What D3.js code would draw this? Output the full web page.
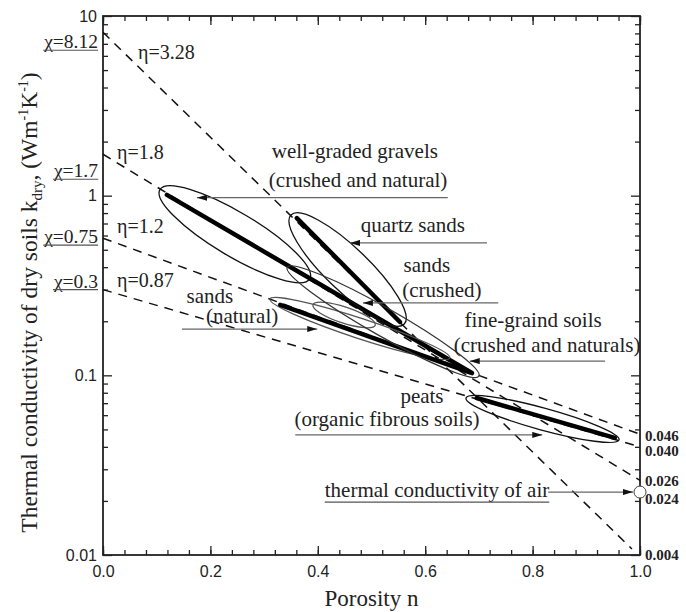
<!DOCTYPE html>
<html>
<head>
<meta charset="utf-8">
<script src="https://cdn.jsdelivr.net/npm/d3@7/dist/d3.min.js"></script>
<style>
  body { margin: 0; background: #fff; }
  text { fill: #222; }
</style>
</head>
<body>
<div id="chart"></div>
<script>
//! DATA
// model lines k = chi * 10^(-eta n), end points as [n, k]
const chiLabels = ['χ=8.12', 'χ=1.7', 'χ=0.75', 'χ=0.3'];
const etaLabels = ['η=3.28', 'η=1.8', 'η=1.2', 'η=0.87'];
const lineStart = [[0, 8.12], [0, 1.7], [0, 0.58], [0, 0.3]];
const lineEnd = [[0.985, 0.0108], [1, 0.026], [1, 0.047], [1, 0.040]];

// values written on the right side at n = 1
const endLabels = ['0.046', '0.040', '0.026', '0.024', '0.004'];
const endValues = [0.046, 0.040, 0.026, 0.024, 0.004];

// soil groups: ellipse ends, half width (decades of k), trend line ends
const groupNames = ['gravels', 'quartz sands', 'sands crushed', 'sands natural', 'fine-grained', 'peats'];
const ellipseFrom = [[0.106, 1.08], [0.350, 0.78], [0.391, 0.247], [0.311, 0.266], [0.343, 0.40], [0.676, 0.0748]];
const ellipseTo = [[0.385, 0.344], [0.561, 0.193], [0.507, 0.19], [0.646, 0.125], [0.700, 0.099], [0.961, 0.0437]];
const ellipseHalf = [0.122, 0.12, 0.045, 0.056, 0.078, 0.061];
const trendFrom = [[0.119, 1.01], [0.361, 0.75], null, [0.330, 0.247], null, [0.696, 0.0748]];
const trendTo = [[0.687, 0.103], [0.553, 0.198], null, [0.683, 0.104], null, [0.953, 0.0449]];

// text labels [n, k] (centre, baseline)
const noteText = ['well-graded gravels', '(crushed and natural)', 'quartz sands', 'sands', '(crushed)',
  'sands', '(natural)', 'fine-graind soils', '(crushed and naturals)', 'peats', '(organic fibrous soils)'];
const notePos = [[0.469, 1.62], [0.475, 1.12], [0.577, 0.628], [0.603, 0.376], [0.631, 0.273],
  [0.199, 0.253], [0.259, 0.196], [0.801, 0.186], [0.827, 0.135], [0.594, 0.0705], [0.529, 0.0522]];
// arrows: tail -> head
const arrowFrom = [[0.642, 0.975], [0.715, 0.546], [0.736, 0.253], [0.147, 0.181], [0.935, 0.120], [0.358, 0.0466], [0.829, 0.0224]];
const arrowTo = [[0.175, 0.975], [0.46, 0.546], [0.484, 0.253], [0.399, 0.181], [0.683, 0.120], [0.818, 0.0466], [0.987, 0.0224]];

const airText = 'thermal conductivity of air';
const airPos = [0.622, 0.021];
const airPoint = [1, 0.0224];

const xTicks = [0, 0.2, 0.4, 0.6, 0.8, 1.0];
const yTicks = [0.01, 0.1, 1, 10];
const yTickLabels = ['0.01', '0.1', '1', '10'];

//! CONSTS
const WIDTH = 686, HEIGHT = 612;
const M = { left: 103, right: 640, top: 16, bottom: 555 };
const SERIF = '"Liberation Serif", "Times New Roman", serif';
const SANS = '"Liberation Sans", Arial, sans-serif';

const svg = d3.select('#chart').append('svg')
  .attr('width', WIDTH).attr('height', HEIGHT);

const x = d3.scaleLinear().domain([0, 1]).range([M.left, M.right]);
const y = d3.scaleLog().domain([0.01, 10]).range([M.bottom, M.top]);
const decade = y(0.1) - y(1);

svg.append('defs').append('marker')
  .attr('id', 'head')
  .attr('viewBox', '0 0 10 6')
  .attr('refX', 10).attr('refY', 3)
  .attr('markerWidth', 10).attr('markerHeight', 6)
  .attr('markerUnits', 'userSpaceOnUse')
  .attr('orient', 'auto')
  .append('path').attr('d', 'M0,0L10,3L0,6Z').attr('fill', '#111');

//! AXES
const minorX = d3.range(0, 1.0001, 0.04);
const minorY = [];
[0.01, 0.1, 1].forEach(d => { for (let i = 2; i <= 9; i++) minorY.push(d * i); });

function axisG(axis, tx, ty) {
  const g = svg.append('g').attr('transform', `translate(${tx},${ty})`).call(axis);
  g.select('.domain').remove();
  g.selectAll('line').attr('stroke', '#222').attr('stroke-width', 1.3);
  return g;
}

axisG(d3.axisBottom(x).tickValues(minorX).tickSize(-5).tickFormat(''), 0, M.bottom);
axisG(d3.axisTop(x).tickValues(minorX).tickSize(-5).tickFormat(''), 0, M.top);
axisG(d3.axisTop(x).tickValues(xTicks).tickSize(-9).tickFormat(''), 0, M.top);
axisG(d3.axisBottom(x).tickValues(xTicks).tickSize(-9).tickPadding(11).tickFormat(d3.format('.1f')), 0, M.bottom)
  .selectAll('text').attr('font-family', SANS).attr('font-size', 16).attr('fill', '#222');

axisG(d3.axisLeft(y).tickValues(minorY).tickSize(-5).tickFormat(''), M.left, 0);
axisG(d3.axisRight(y).tickValues(minorY).tickSize(-5).tickFormat(''), M.right, 0);
axisG(d3.axisRight(y).tickValues(yTicks).tickSize(-9).tickFormat(''), M.right, 0);
axisG(d3.axisLeft(y).tickValues(yTicks).tickSize(-9).tickPadding(6).tickFormat((d, i) => yTickLabels[i]), M.left, 0)
  .selectAll('text').attr('font-family', SANS).attr('font-size', 16).attr('fill', '#222');

svg.append('rect')
  .attr('x', M.left).attr('y', M.top)
  .attr('width', M.right - M.left).attr('height', M.bottom - M.top)
  .attr('fill', 'none').attr('stroke', '#222').attr('stroke-width', 1.8);

// axis titles
svg.append('text')
  .attr('x', (M.left + M.right) / 2).attr('y', 606)
  .attr('text-anchor', 'middle')
  .attr('font-family', SERIF).attr('font-size', 23)
  .text('Porosity n');

const yt = svg.append('text')
  .attr('transform', `translate(37,${(M.top + M.bottom) / 2 + 17}) rotate(-90)`)
  .attr('text-anchor', 'middle')
  .attr('font-family', SERIF).attr('font-size', 23.5);
yt.append('tspan').text('Thermal conductivity of dry soils k');
yt.append('tspan').attr('font-size', 15).attr('dy', 5).text('dry');
yt.append('tspan').attr('dy', -5).text(', (Wm');
yt.append('tspan').attr('font-size', 14).attr('dy', -9).text('-1');
yt.append('tspan').attr('dy', 9).text('K');
yt.append('tspan').attr('font-size', 14).attr('dy', -9).text('-1');
yt.append('tspan').attr('dy', 9).text(')');

//! MODEL LINES
const plot = svg.append('g');
plot.selectAll('.model')
  .data(lineStart)
  .enter().append('line')
  .attr('class', 'model')
  .attr('x1', d => x(d[0])).attr('y1', d => y(d[1]))
  .attr('x2', (d, i) => x(lineEnd[i][0])).attr('y2', (d, i) => y(lineEnd[i][1]))
  .attr('stroke', '#111').attr('stroke-width', 1.5)
  .attr('stroke-dasharray', '9,7');

//! ELLIPSES
const ellipseStroke = ['#111', '#111', '#555', '#555', '#333', '#111'];
groupNames.forEach((name, i) => {
  const x1 = x(ellipseFrom[i][0]), y1 = y(ellipseFrom[i][1]);
  const x2 = x(ellipseTo[i][0]), y2 = y(ellipseTo[i][1]);
  const rx = Math.hypot(x2 - x1, y2 - y1) / 2;
  const ang = Math.atan2(y2 - y1, x2 - x1) * 180 / Math.PI;
  plot.append('ellipse')
    .attr('transform', `translate(${(x1 + x2) / 2},${(y1 + y2) / 2}) rotate(${ang})`)
    .attr('rx', rx).attr('ry', ellipseHalf[i] * decade)
    .attr('fill', 'none').attr('stroke', ellipseStroke[i]).attr('stroke-width', 1.3);
  if (trendFrom[i]) {
    plot.append('line')
      .attr('x1', x(trendFrom[i][0])).attr('y1', y(trendFrom[i][1]))
      .attr('x2', x(trendTo[i][0])).attr('y2', y(trendTo[i][1]))
      .attr('stroke', '#000').attr('stroke-width', 4.5).attr('stroke-linecap', 'round');
  }
});

//! ANNOTATIONS
plot.selectAll('.arrow')
  .data(arrowFrom)
  .enter().append('line')
  .attr('class', 'arrow')
  .attr('x1', d => x(d[0])).attr('y1', d => y(d[1]))
  .attr('x2', (d, i) => x(arrowTo[i][0])).attr('y2', (d, i) => y(arrowTo[i][1]))
  .attr('stroke', '#666').attr('stroke-width', 1.3)
  .attr('marker-end', 'url(#head)');

plot.selectAll('.note')
  .data(noteText)
  .enter().append('text')
  .attr('class', 'note')
  .attr('x', (d, i) => x(notePos[i][0])).attr('y', (d, i) => y(notePos[i][1]))
  .attr('text-anchor', 'middle')
  .attr('font-family', SERIF).attr('font-size', 21)
  .text(d => d);

const air = plot.append('text')
  .attr('x', x(airPos[0])).attr('y', y(airPos[1]))
  .attr('text-anchor', 'middle')
  .attr('font-family', SERIF).attr('font-size', 21)
  .text(airText);
const ab = air.node().getBBox();
plot.append('line')
  .attr('x1', ab.x).attr('x2', ab.x + ab.width)
  .attr('y1', y(airPos[1]) + 5).attr('y2', y(airPos[1]) + 5)
  .attr('stroke', '#555').attr('stroke-width', 1.2);

plot.append('circle')
  .attr('cx', x(airPoint[0])).attr('cy', y(airPoint[1]))
  .attr('r', 6).attr('fill', '#fff').attr('stroke', '#444').attr('stroke-width', 1);

// chi labels, left of the axis, underlined
const chiDy = [16, 23, 5, -2];
chiLabels.forEach((t, i) => {
  const yy = y(lineStart[i][1]) + chiDy[i];
  const tx = svg.append('text')
    .attr('x', M.left - 5).attr('y', yy)
    .attr('text-anchor', 'end')
    .attr('font-family', SERIF).attr('font-size', 19.5)
    .text(t);
  const b = tx.node().getBBox();
  svg.append('line')
    .attr('x1', b.x).attr('x2', b.x + b.width)
    .attr('y1', yy + 2).attr('y2', yy + 2)
    .attr('stroke', '#555').attr('stroke-width', 1.2);
});

// eta labels, just right of the axis
const etaX = [138, 117, 117, 117];
const etaDy = [27, 5, -5, -3];
etaLabels.forEach((t, i) => {
  svg.append('text')
    .attr('x', etaX[i]).attr('y', y(lineStart[i][1]) + etaDy[i])
    .attr('font-family', SERIF).attr('font-size', 20)
    .text(t);
});

// end values at n = 1
const endDy = [5, 9, 6, 17, 0];
svg.selectAll('.endlab')
  .data(endLabels)
  .enter().append('text')
  .attr('class', 'endlab')
  .attr('x', M.right + 5)
  .attr('y', (d, i) => Math.min(y(endValues[i]), M.bottom + 5) + endDy[i])
  .attr('font-family', SERIF).attr('font-size', 15).attr('font-weight', 'bold')
  .text(d => d);
</script>
</body>
</html>
